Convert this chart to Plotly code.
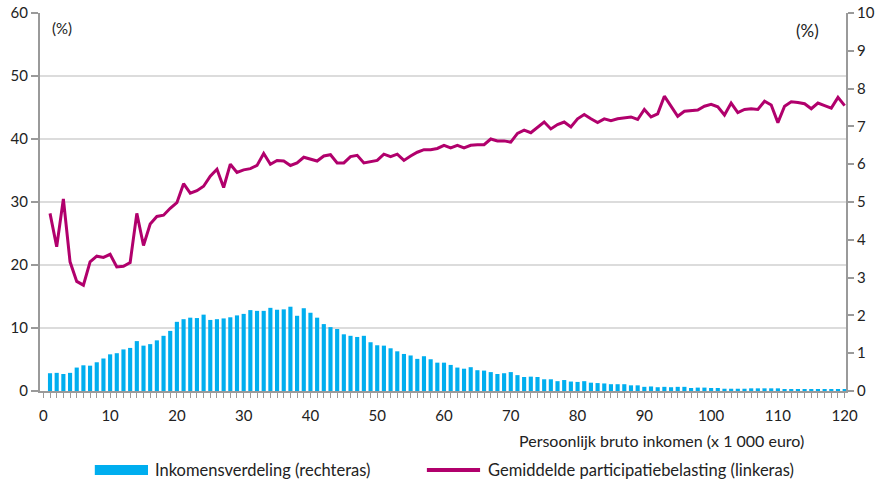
import plotly.graph_objects as go

income = list(range(1, 121))

participatie = [
    28.2, 22.9, 30.5, 20.5, 17.4, 16.8, 20.5, 21.4, 21.2, 21.7,
    19.7, 19.8, 20.4, 28.2, 23.1, 26.5, 27.7, 27.9, 29.0, 29.9,
    32.9, 31.4, 31.8, 32.5, 34.1, 35.2, 32.3, 36.0, 34.7, 35.1,
    35.3, 35.8, 37.7, 36.0, 36.6, 36.5, 35.8, 36.2, 37.1, 36.8,
    36.5, 37.3, 37.5, 36.2, 36.2, 37.2, 37.4, 36.2, 36.4, 36.6,
    37.6, 37.2, 37.6, 36.6, 37.3, 37.9, 38.3, 38.3, 38.5, 39.0,
    38.6, 39.0, 38.6, 39.0, 39.1, 39.1, 40.0, 39.7, 39.7, 39.5,
    40.9, 41.4, 41.0, 41.9, 42.7, 41.6, 42.3, 42.7, 41.9, 43.2,
    43.9, 43.2, 42.6, 43.2, 42.9, 43.2, 43.4, 43.5, 43.1, 44.7,
    43.5, 44.0, 46.8, 45.1, 43.6, 44.4, 44.5, 44.6, 45.2, 45.5,
    45.1, 43.8, 45.7, 44.2, 44.7, 44.8, 44.7, 46.0, 45.4, 42.6,
    45.2, 45.9, 45.8, 45.6, 44.8, 45.7, 45.3, 44.9, 46.6, 45.3,
]

verdeling = [
    0.47, 0.48, 0.45, 0.48, 0.62, 0.68, 0.67, 0.76, 0.86, 0.97,
    1.00, 1.10, 1.14, 1.32, 1.20, 1.24, 1.34, 1.46, 1.59, 1.83,
    1.90, 1.94, 1.93, 2.02, 1.88, 1.90, 1.92, 1.95, 2.00, 2.04,
    2.14, 2.12, 2.12, 2.20, 2.15, 2.16, 2.23, 1.99, 2.19, 2.07,
    1.94, 1.77, 1.69, 1.64, 1.50, 1.46, 1.43, 1.46, 1.29, 1.21,
    1.20, 1.13, 1.05, 0.98, 0.94, 0.85, 0.92, 0.84, 0.75, 0.75,
    0.69, 0.62, 0.59, 0.63, 0.55, 0.54, 0.50, 0.45, 0.47, 0.50,
    0.42, 0.37, 0.38, 0.37, 0.31, 0.31, 0.26, 0.29, 0.25, 0.24,
    0.26, 0.22, 0.21, 0.20, 0.18, 0.18, 0.18, 0.15, 0.15, 0.11,
    0.12, 0.10, 0.11, 0.10, 0.11, 0.11, 0.08, 0.09, 0.09, 0.08,
    0.08, 0.06, 0.06, 0.06, 0.06, 0.07, 0.07, 0.07, 0.07, 0.07,
    0.04, 0.04, 0.04, 0.04, 0.04, 0.05, 0.05, 0.04, 0.05, 0.04,
]

BAR_NAME = "Inkomensverdeling (rechteras)"
LINE_NAME = "Gemiddelde participatiebelasting (linkeras)"
X_TITLE = "Persoonlijk bruto inkomen (x 1 000 euro)"

BLUE = "#00aeef"
MAGENTA = "#b1006c"
AXIS = "#9a9a9a"
GRID = "#dcdcdc"
TXT = "#222222"
FONT = "Lato"

fig = go.Figure()
fig.add_trace(go.Bar(x=income, y=verdeling, name=BAR_NAME, yaxis="y2",
                     marker=dict(color=BLUE, line=dict(width=0)), width=0.62,
                     showlegend=False))
fig.add_trace(go.Scatter(x=income, y=participatie, name=LINE_NAME, mode="lines",
                         line=dict(color=MAGENTA, width=3), showlegend=False))

fig.update_layout(
    width=882, height=486,
    margin=dict(l=40, r=36, t=13, b=95),
    paper_bgcolor="white", plot_bgcolor="white",
    font=dict(family=FONT, size=15, color=TXT),
    bargap=0.38,
    xaxis=dict(range=[-0.5, 120.2], dtick=10, tick0=0, showgrid=False, automargin=False,
               showline=True, linecolor=AXIS, linewidth=2,
               ticks="outside", ticklen=5, tickcolor=AXIS, tickwidth=1,
               minor=dict(dtick=1, ticks="outside", ticklen=5, tickcolor=AXIS, tickwidth=1),
               ticklabelstandoff=5, zeroline=False),
    yaxis=dict(range=[0, 60], dtick=10, showgrid=True, gridcolor=GRID, gridwidth=1.5,
               automargin=False,
               showline=True, linecolor=AXIS, linewidth=2,
               ticks="outside", ticklen=7, tickcolor=AXIS, tickwidth=1.5, zeroline=False),
    yaxis2=dict(range=[0, 10], dtick=1, overlaying="y", side="right", showgrid=False,
                automargin=False,
                showline=True, linecolor=AXIS, linewidth=2,
                ticks="outside", ticklen=6, tickcolor=AXIS, tickwidth=1.5, zeroline=False),
)

annotations = [
    dict(text="(%)", x=0.012, y=0.96, xref="paper", yref="paper", xanchor="left",
         yanchor="middle", showarrow=False, font=dict(size=15)),
    dict(text="(%)", x=0.969, y=0.955, xref="paper", yref="paper", xanchor="right",
         yanchor="middle", showarrow=False, font=dict(size=17)),
    dict(text=X_TITLE, x=0.950, y=-0.132, xref="paper", yref="paper", xanchor="right",
         yanchor="middle", showarrow=False, font=dict(size=16)),
    dict(text=BAR_NAME, x=0.140, y=-0.209, xref="paper", yref="paper", xanchor="left",
         yanchor="middle", showarrow=False, font=dict(size=16.5)),
    dict(text=LINE_NAME, x=0.553, y=-0.209, xref="paper", yref="paper", xanchor="left",
         yanchor="middle", showarrow=False, font=dict(size=16.5)),
]
shapes = [
    dict(type="rect", xref="paper", yref="paper", x0=0.068, x1=0.134, y0=-0.222, y1=-0.196,
         fillcolor=BLUE, line=dict(width=0)),
    dict(type="line", xref="paper", yref="paper", x0=0.480, x1=0.546, y0=-0.209, y1=-0.209,
         line=dict(color=MAGENTA, width=4)),
]
fig.update_layout(annotations=annotations, shapes=shapes)

fig.write_html("out.html", config={"displayModeBar": False},
               post_script="document.body.style.margin='0';document.body.style.overflow='hidden';")
